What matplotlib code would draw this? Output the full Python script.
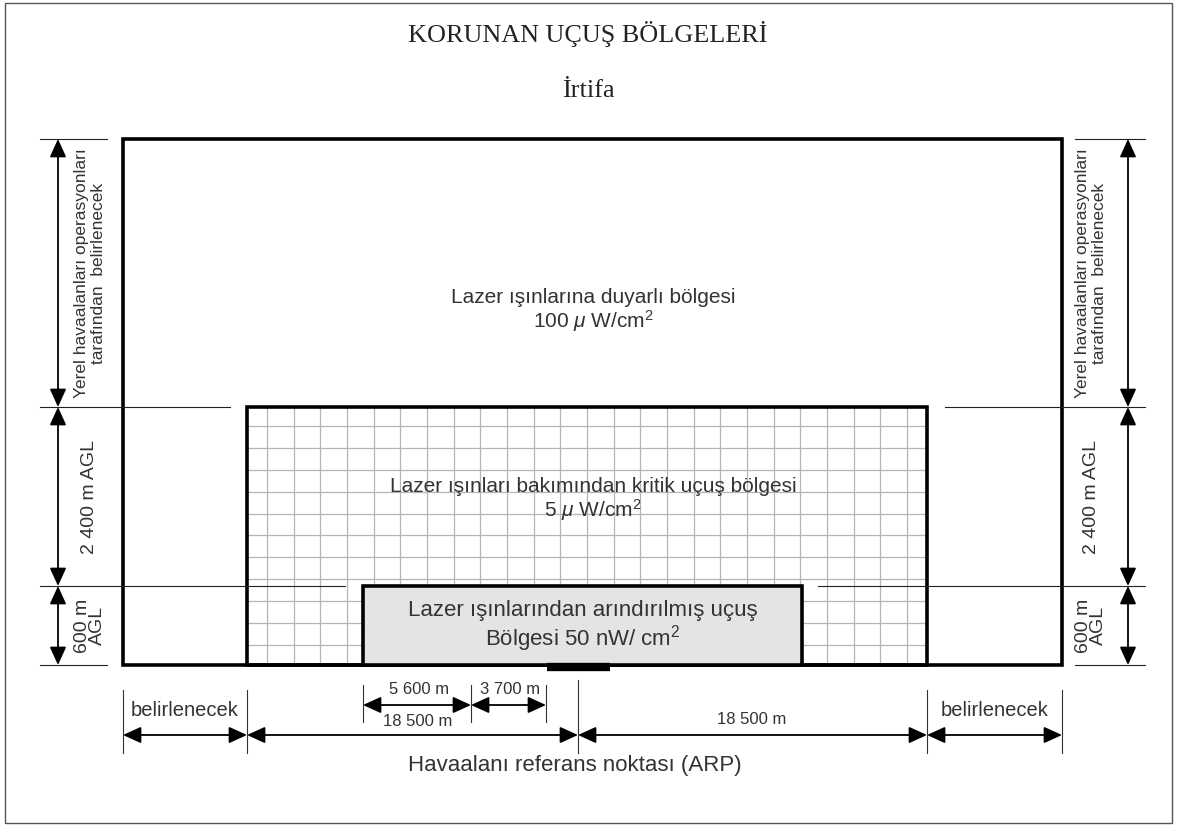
import matplotlib.pyplot as plt
from matplotlib.patches import Rectangle

plt.rcParams['font.family'] = ['Liberation Sans', 'DejaVu Sans']
plt.rcParams['mathtext.fontset'] = 'custom'
plt.rcParams['mathtext.rm'] = 'Liberation Sans'
plt.rcParams['mathtext.it'] = 'Liberation Sans:italic'

# zones (drawing units = pixels of the sheet)
zone_names = ['Lazer ışınlarına duyarlı bölgesi\n100 $\\mu$ W/cm$^{2}$',
              'Lazer ışınları bakımından kritik uçuş bölgesi\n5 $\\mu$ W/cm$^{2}$',
              'Lazer ışınlarından arındırılmış uçuş\nBölgesi 50 nW/ cm$^{2}$']
zone_left = [123, 247, 363]
zone_right = [1062, 927, 802]
zone_top = [139, 407, 586]
ground = 665
arp_x = 578
runway = [547, 610]

# side heights
height_labels = ['Yerel havaalanları operasyonları\ntarafından  belirlenecek',
                 '2 400 m AGL', '600 m\nAGL']
height_sizes = [12.5, 14, 14]

# horizontal distances
dist_bounds = [123, 247, 578, 927, 1062]
dist_labels = ['belirlenecek', '18 500 m', '18 500 m', 'belirlenecek']
inner_bounds = [363, 471, 546]
inner_labels = ['5 600 m', '3 700 m']

fig = plt.figure(figsize=(11.77, 8.27), dpi=100)
ax = fig.add_axes([0, 0, 1, 1])
ax.set_xlim(0, 1177)
ax.set_ylim(827, 0)
ax.axis('off')

# sheet border
ax.add_patch(Rectangle((5, 3), 1167, 820, fill=False, ec='#555555', lw=1))

ax.text(588, 34, 'KORUNAN UÇUŞ BÖLGELERİ', family='Liberation Serif', fontsize=18.8,
        ha='center', va='center', color='#222222')
ax.text(588, 91, 'İrtifa', family='Liberation Serif', fontsize=19,
        ha='center', va='center', color='#222222')

# grid in the critical zone
gx0, gx1 = zone_left[1], zone_right[1]
gy0 = zone_top[1]
x = gx0 + 20
while x < gx1 - 5:
    ax.plot([x, x], [gy0, ground], color='#b5b5b5', lw=0.9, zorder=1)
    x += 26.67
y = gy0 + 19
while y < ground - 5:
    ax.plot([gx0, gx1], [y, y], color='#b5b5b5', lw=0.9, zorder=1)
    y += 21.9

fills = ['none', 'none', '#e4e4e4']
for i in range(3):
    ax.add_patch(Rectangle((zone_left[i], zone_top[i]), zone_right[i] - zone_left[i],
                           ground - zone_top[i], fc=fills[i], ec='black', lw=2.6, zorder=3))

ax.plot(runway, [ground + 2, ground + 2], color='black', lw=6, solid_capstyle='butt', zorder=4)

# level lines
lv = '#222222'
ax.plot([40, 107], [139, 139], color=lv, lw=0.8, zorder=5)
ax.plot([1075, 1145], [139, 139], color=lv, lw=0.8, zorder=5)
ax.plot([40, 230], [407, 407], color=lv, lw=0.8, zorder=5)
ax.plot([945, 1145], [407, 407], color=lv, lw=0.8, zorder=5)
ax.plot([40, 345], [586, 586], color=lv, lw=0.8, zorder=5)
ax.plot([818, 1145], [586, 586], color=lv, lw=0.8, zorder=5)
ax.plot([40, 107], [ground, ground], color=lv, lw=0.8, zorder=5)
ax.plot([1075, 1145], [ground, ground], color=lv, lw=0.8, zorder=5)

zone_texts_y = [311, 500, 627]
zone_sizes = [15, 15, 16]
for i in range(3):
    ax.text((zone_left[2] + zone_right[2]) / 2 if i == 2 else 593, zone_texts_y[i], zone_names[i],
            ha='center', va='center', fontsize=zone_sizes[i], color='#333333',
            linespacing=1.05, zorder=6)

arrow = dict(arrowstyle='<|-|>,head_length=0.55,head_width=0.25', color='black', lw=1.3,
             shrinkA=0, shrinkB=0, mutation_scale=20)

levels = [zone_top[0], zone_top[1], zone_top[2], ground]
for side_x, text_x in [(58, 90), (1128, 1091)]:
    for i in range(3):
        ax.annotate('', xy=(side_x, levels[i]), xytext=(side_x, levels[i + 1]), arrowprops=arrow)
        ax.text(text_x, (levels[i] + levels[i + 1]) / 2, height_labels[i], rotation=90,
                ha='center', va='center', fontsize=height_sizes[i], color='#333333',
                linespacing=0.85 if i == 2 else 1.1)

# bottom dimensions
for bx in dist_bounds:
    top = 680 if bx == arp_x else 690
    ax.plot([bx, bx], [top, 753], color='#333333', lw=0.8)
for i in range(4):
    ax.annotate('', xy=(dist_bounds[i], 735), xytext=(dist_bounds[i + 1], 735), arrowprops=arrow)
dist_text = [(185, 711), (418, 722), (752, 720), (995, 711)]
for i in range(4):
    ax.text(dist_text[i][0], dist_text[i][1], dist_labels[i], ha='center', va='center',
            fontsize=14.5 if i in (0, 3) else 12, color='#333333')

for bx in inner_bounds:
    ax.plot([bx, bx], [685, 722], color='#333333', lw=0.8)
for i in range(2):
    ax.annotate('', xy=(inner_bounds[i], 705), xytext=(inner_bounds[i + 1], 705), arrowprops=arrow)
    ax.text((inner_bounds[i] + inner_bounds[i + 1]) / 2 + 2, 689, inner_labels[i], ha='center',
            va='center', fontsize=12, color='#333333')

ax.text(575, 766, 'Havaalanı referans noktası (ARP)', ha='center', va='center',
        fontsize=16, color='#333333')

fig.savefig('out.png', dpi=100)
